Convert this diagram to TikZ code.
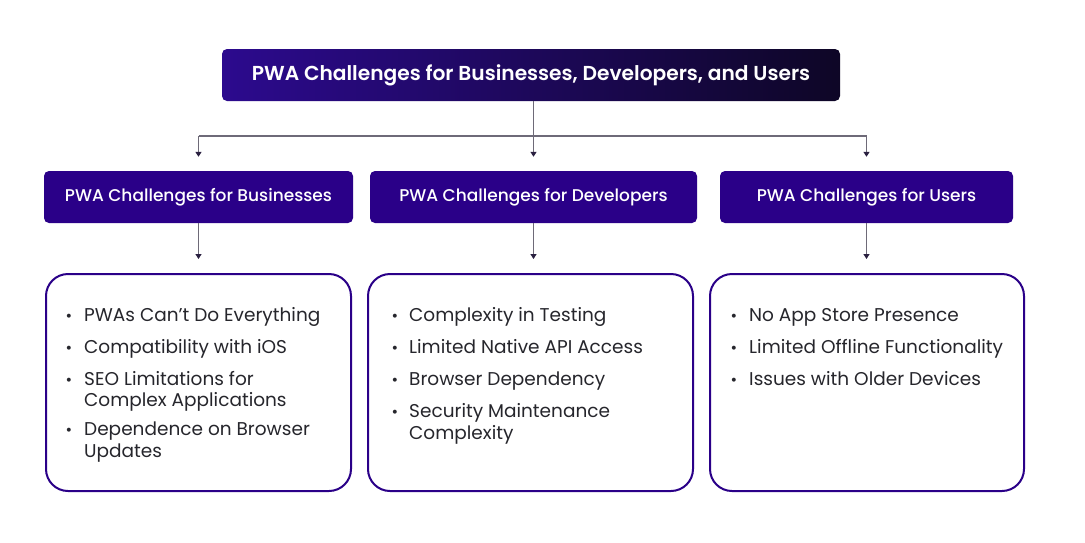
\documentclass[tikz,border=0pt]{standalone}
\usepackage{fontspec}
\setmainfont{Poppins}
\newfontfamily\headfont{Poppins}[UprightFont=* Medium]
\newfontfamily\titlefont{Poppins}[UprightFont=* SemiBold]
\usetikzlibrary{arrows.meta}
\definecolor{indigo}{HTML}{2A0088}
\definecolor{titleL}{HTML}{2C0A8E}
\definecolor{titleR}{HTML}{0E0626}
\definecolor{linegray}{HTML}{6E6A78}
\definecolor{tipc}{HTML}{2A2040}
\definecolor{txt}{HTML}{26262C}
\tikzset{
  titlebox/.style={rounded corners=5pt, left color=titleL, right color=titleR, text=white,
    font=\titlefont\fontsize{20.2}{23}\selectfont, inner sep=0pt},
  headbox/.style={rounded corners=5pt, fill=indigo, text=white,
    font=\headfont\fontsize{17}{20}\selectfont, inner sep=0pt, minimum height=52pt},
  listbox/.style={rounded corners=22pt, draw=indigo, line width=2pt, fill=white, inner sep=0pt, minimum height=217pt},
  conn/.style={draw=linegray, line width=1.5pt},
  arr/.style={conn, -{Triangle[length=5pt,width=6pt,color=tipc]}},
  item/.style={anchor=base west, inner sep=0pt, text=txt, font=\fontsize{18.5}{22}\selectfont},
  bul/.style={anchor=base, inner sep=0pt, text=txt, font=\fontsize{16}{19}\selectfont}
}
\begin{document}
\begin{tikzpicture}[x=1pt,y=-1pt]
\useasboundingbox (0,0) rectangle (1085,542);
\fill[white] (0,0) rectangle (1085,542);

\node[titlebox, minimum width=618pt, minimum height=52pt] (title) at (531,75)
  {PWA Challenges for Businesses, Developers, and Users};

\node[headbox, minimum width=309pt] (bus) at (198.5,197) {PWA Challenges for Businesses};
\node[headbox, minimum width=327pt] (dev) at (533.5,197) {PWA Challenges for Developers};
\node[headbox, minimum width=293pt] (usr) at (866.5,197) {PWA Challenges for Users};

\node[listbox, minimum width=305pt] (bl) at (198.5,382.5) {};
\node[listbox, minimum width=325pt] (dl) at (530.5,382.5) {};
\node[listbox, minimum width=314pt] (ul) at (867,382.5) {};

% connectors
\coordinate (j) at (533.5,136);
\draw[conn] (title.south -| j) -- (j);
\draw[conn] (j -| bus.north) -- (j -| usr.north);
\draw[arr] (j -| bus.north) -- ([yshift=14pt]bus.north);
\draw[arr] (j) -- ([yshift=14pt]dev.north);
\draw[arr] (j -| usr.north) -- ([yshift=14pt]usr.north);
\draw[arr] (bus.south) -- ([yshift=14pt]bus.south |- bl.north);
\draw[arr] (dev.south) -- ([yshift=14pt]dev.south |- dl.north);
\draw[arr] (usr.south) -- ([yshift=14pt]usr.south |- ul.north);

% businesses list
\node[bul] (bd1) at (69,321) {•};
\node[item] (bt1) at (84,321) {PWAs Can’t Do Everything};
\node[bul] (bd2) at (69,353) {•};
\node[item] (bt2) at (84,353) {Compatibility with iOS};
\node[bul] (bd3) at (69,385) {•};
\node[item] (bt3) at (84,385) {SEO Limitations for};
\node[item] (bt3b) at (84,406) {Complex Applications};
\node[bul] (bd4) at (69,435) {•};
\node[item] (bt4) at (84,435) {Dependence on Browser};
\node[item] (bt4b) at (84,457) {Updates};

% developers list
\node[bul] (dd1) at (395,321) {•};
\node[item] (dt1) at (409,321) {Complexity in Testing};
\node[bul] (dd2) at (395,353) {•};
\node[item] (dt2) at (409,353) {Limited Native API Access};
\node[bul] (dd3) at (395,385) {•};
\node[item] (dt3) at (409,385) {Browser Dependency};
\node[bul] (dd4) at (395,417) {•};
\node[item] (dt4) at (409,417) {Security Maintenance};
\node[item] (dt4b) at (409,439) {Complexity};

% users list
\node[bul] (ud1) at (734,321) {•};
\node[item] (ut1) at (749,321) {No App Store Presence};
\node[bul] (ud2) at (734,353) {•};
\node[item] (ut2) at (749,353) {Limited Offline Functionality};
\node[bul] (ud3) at (734,385) {•};
\node[item] (ut3) at (749,385) {Issues with Older Devices};
\end{tikzpicture}
\end{document}
